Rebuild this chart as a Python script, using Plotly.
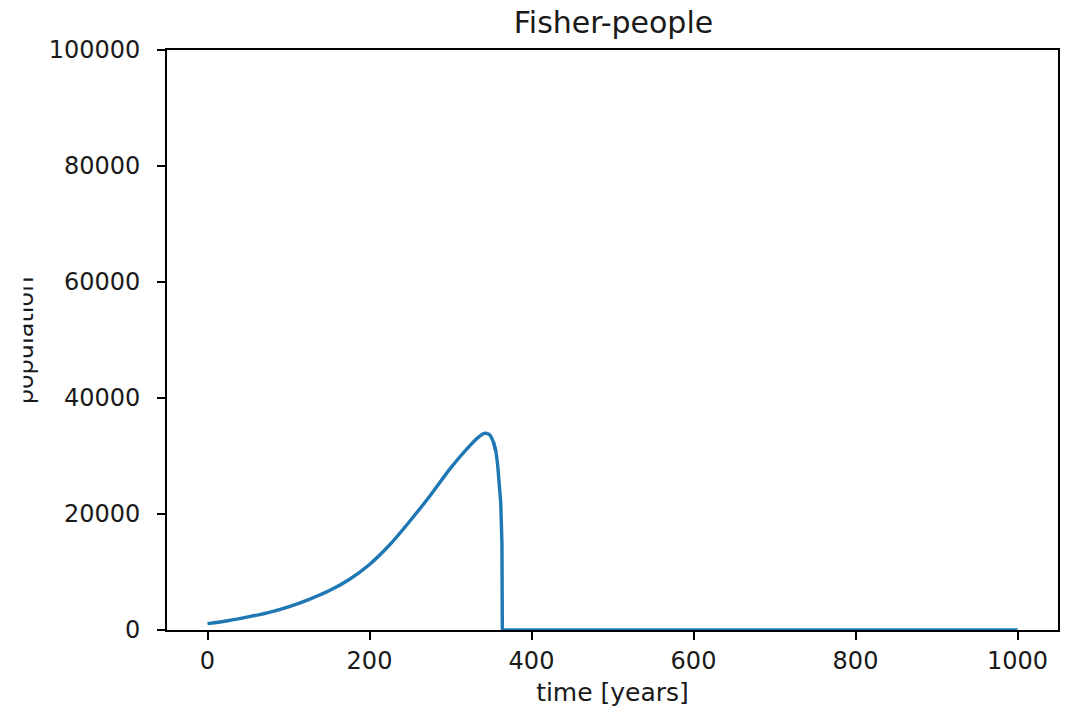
import plotly.graph_objects as go

# Data
time_years = [0, 25, 50, 75, 100, 125, 150, 175, 200, 225, 250, 275, 300, 320, 335, 342,
              348, 353, 356, 358, 360, 362, 363.5, 364, 400, 600, 800, 1000]
population = [1100, 1600, 2250, 3000, 4000, 5250, 6750, 8700, 11300, 14700, 18800, 23200,
              27900, 31200, 33300, 33900, 33700, 32400, 30800, 28800, 26000, 22000, 15000,
              0, 0, 0, 0, 0]

x_ticks = [0, 200, 400, 600, 800, 1000]
y_ticks = [0, 20000, 40000, 60000, 80000, 100000]

W, H = 1071, 713
L, R, T, B = 167, 11, 50, 83
pw = W - L - R

def px_to_paper_x(px):
    return (px - L) / pw

FONT = "DejaVu Sans"
LINE_COLOR = "#1f77b4"

# smooth rising part, straight segments for the abrupt collapse
split_a = time_years.index(356)
split_b = time_years.index(353)

fig = go.Figure()
fig.add_trace(go.Scatter(
    x=time_years[:split_a + 1], y=population[:split_a + 1], mode="lines",
    line=dict(color=LINE_COLOR, width=3.4, shape="spline", smoothing=0.8),
    showlegend=False, hoverinfo="skip",
))
fig.add_trace(go.Scatter(
    x=time_years[split_b:], y=population[split_b:], mode="lines",
    line=dict(color=LINE_COLOR, width=3.4),
    showlegend=False, hoverinfo="skip",
))

axis_common = dict(
    showline=True, linecolor="#000000", linewidth=1.6, mirror=True,
    ticks="outside", ticklen=8, tickwidth=1.6, tickcolor="#000000",
    showgrid=False, zeroline=False,
    tickfont=dict(family=FONT, size=24, color="#1a1a1a"),
)

fig.update_xaxes(
    range=[-50, 1050], tickmode="array", tickvals=x_ticks,
    ticktext=[str(v) for v in x_ticks],
    title=dict(text="time [years]", font=dict(family=FONT, size=25, color="#1a1a1a"), standoff=10),
    **axis_common,
)
fig.update_yaxes(
    range=[0, 100000], tickmode="array", tickvals=y_ticks,
    ticktext=[str(v) for v in y_ticks],
    ticklabelstandoff=12,
    **axis_common,
)

annotations = [
    dict(text="population", textangle=-90, xref="paper", yref="paper",
         x=px_to_paper_x(25), y=0.5, xanchor="center", yanchor="middle",
         showarrow=False, font=dict(family=FONT, size=24, color="#1a1a1a")),
    dict(text=" ", xref="paper", yref="paper",
         x=px_to_paper_x(0), y=0.5, xanchor="left", yanchor="middle",
         width=22, height=220, bgcolor="#ffffff", borderpad=0,
         showarrow=False, font=dict(size=10)),
]

fig.update_layout(
    width=W, height=H,
    margin=dict(l=L, r=R, t=T, b=B),
    paper_bgcolor="#ffffff", plot_bgcolor="#ffffff",
    title=dict(text="Fisher-people", x=(L + pw / 2) / W, xanchor="center",
               y=1 - 22 / H, yanchor="middle",
               font=dict(family=FONT, size=30, color="#1a1a1a")),
    annotations=annotations,
)

fig.write_html("out.html")
